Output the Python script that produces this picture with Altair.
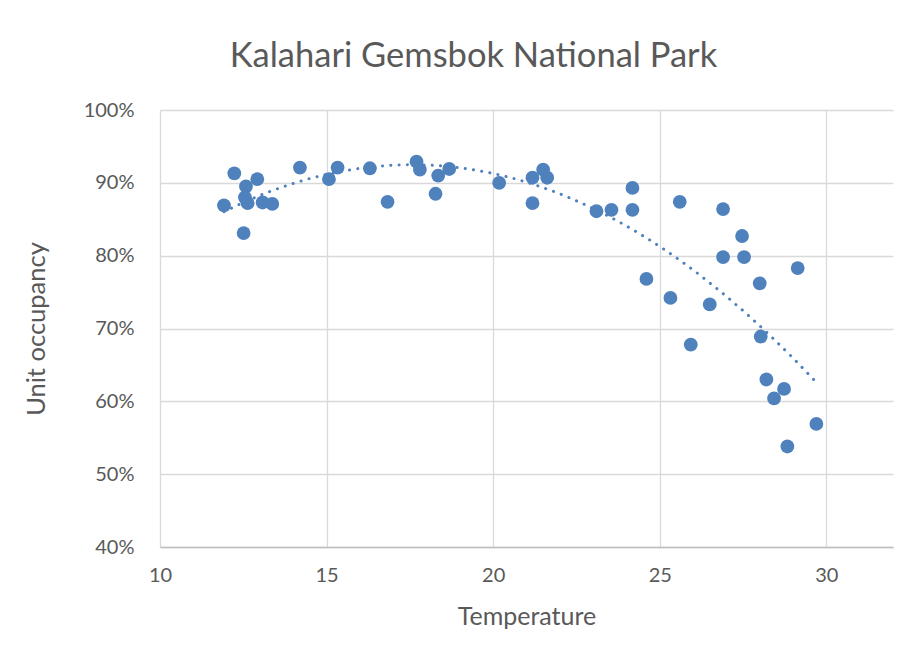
import altair as alt
import pandas as pd

temperature = [11.92, 12.23, 12.51, 12.58, 12.55, 12.63, 12.92, 13.08, 13.37, 14.2,
               15.07, 15.33, 16.3, 16.83, 17.7, 17.8, 18.27, 18.35, 18.68, 20.18,
               21.18, 21.5, 21.62, 21.18, 23.1, 23.55, 24.18, 24.18, 25.6, 26.9,
               27.47, 26.9, 27.53, 29.14, 24.6, 28.0, 25.32, 26.5, 28.03, 25.93,
               28.2, 28.73, 28.43, 29.7, 28.83]
occupancy = [86.9, 91.3, 83.1, 89.5, 88.0, 87.2, 90.5, 87.3, 87.1, 92.1,
             90.5, 92.1, 92.0, 87.4, 92.9, 91.8, 88.5, 91.0, 91.9, 90.0,
             90.7, 91.8, 90.7, 87.2, 86.1, 86.3, 89.3, 86.3, 87.4, 86.4,
             82.7, 79.8, 79.8, 78.3, 76.8, 76.2, 74.2, 73.3, 68.9, 67.8,
             63.0, 61.7, 60.4, 56.9, 53.8]
x_ticks = [10, 15, 20, 25, 30]
y_ticks = [40, 50, 60, 70, 80, 90, 100]

df = pd.DataFrame({"Temperature": temperature, "Occupancy": occupancy})

FONT = "Lato"
TXT = "#595959"
BLUE = "#4f81bd"

x_enc = alt.X("Temperature:Q",
              scale=alt.Scale(domain=[10, 32], nice=False, zero=False),
              axis=alt.Axis(values=x_ticks, title="Temperature", grid=True,
                            gridColor="#d9d9d9", gridWidth=1.3,
                            domain=True, domainColor="#bfbfbf", domainWidth=1.3,
                            ticks=False, labelFlush=False, labelPadding=18,
                            titlePadding=19, labelFontSize=20, titleFontSize=25))
y_enc = alt.Y("Occupancy:Q",
              scale=alt.Scale(domain=[40, 100], nice=False, zero=False),
              axis=alt.Axis(values=y_ticks, title="Unit occupancy", grid=True,
                            gridColor="#d9d9d9", gridWidth=1.3,
                            domain=False, ticks=False, labelFlush=False,
                            labelPadding=26, labelExpr="datum.value + '%'",
                            titlePadding=34, labelFontSize=20, titleFontSize=25.5))

points = alt.Chart(df).mark_circle(size=190, color=BLUE, opacity=1).encode(x=x_enc, y=y_enc)

trend = alt.Chart(df).transform_regression(
    "Temperature", "Occupancy", method="poly", order=2
).mark_line(color=BLUE, strokeWidth=3, strokeDash=[0.1, 8.2], strokeCap="round").encode(
    x="Temperature:Q", y="Occupancy:Q")

chart = alt.layer(points, trend).properties(
    width=733, height=437,
    title=alt.TitleParams("Kalahari Gemsbok National Park", fontSize=34.5, font=FONT,
                          color=TXT, fontWeight="normal", anchor="middle",
                          dx=-53, offset=26),
    autosize=alt.AutoSizeParams(type="none"),
    padding={"left": 152, "top": 102, "right": 20, "bottom": 90},
).configure_view(stroke=None).configure_axis(
    labelFont=FONT, titleFont=FONT, labelColor=TXT, titleColor=TXT,
    titleFontWeight="normal"
)

chart.save("out.html", embed_options={"renderer": "svg", "actions": False})
